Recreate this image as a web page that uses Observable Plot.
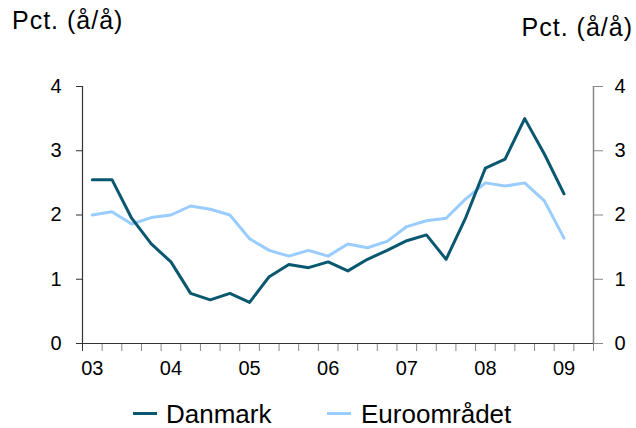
<!DOCTYPE html>
<html>
<head>
<meta charset="utf-8">
<script src="https://cdn.jsdelivr.net/npm/d3@7"></script>
<script src="https://cdn.jsdelivr.net/npm/@observablehq/plot@0.6"></script>
<style>
  body { margin: 0; background: #fff; }
  #wrap { position: relative; width: 636px; height: 428px; font-family: "Liberation Sans", Arial, sans-serif; color: #000; overflow: hidden; }
  .t { position: absolute; white-space: nowrap; line-height: 1; }
  .sw { position: absolute; height: 3px; width: 24px; }
  #chart { position: absolute; left: 0; top: 0; }
</style>
</head>
<body>
<div id="wrap">
  <div id="chart"></div>
  <div class="t" style="left:12px; top:8px; font-size:25px; letter-spacing:1px;">Pct. (å/å)</div>
  <div class="t" style="right:3px; top:15px; font-size:25px; letter-spacing:1px;">Pct. (å/å)</div>
  <div class="sw" id="sw1" style="left:133px; top:412px;"></div>
  <div class="t" id="lg1" style="left:166px; top:401px; font-size:26px;"></div>
  <div class="sw" id="sw2" style="left:327px; top:412px;"></div>
  <div class="t" id="lg2" style="left:361px; top:401px; font-size:26px;"></div>
</div>
<script>
// Quarters 2003K1 - 2009K1
const quarters = ["03K1","03K2","03K3","03K4","04K1","04K2","04K3","04K4","05K1","05K2","05K3","05K4",
                  "06K1","06K2","06K3","06K4","07K1","07K2","07K3","07K4","08K1","08K2","08K3","08K4","09K1"];
const danmark = [2.55, 2.55, 1.95, 1.55, 1.27, 0.78, 0.68, 0.78, 0.64, 1.04, 1.23, 1.18,
                 1.27, 1.13, 1.31, 1.45, 1.60, 1.69, 1.31, 1.96, 2.73, 2.87, 3.50, 2.95, 2.33];
const euro    = [2.00, 2.05, 1.86, 1.96, 2.00, 2.14, 2.09, 2.00, 1.63, 1.45, 1.36, 1.45,
                 1.36, 1.55, 1.49, 1.59, 1.82, 1.91, 1.95, 2.25, 2.50, 2.45, 2.50, 2.22, 1.64];
const seriesNames = ["Danmark", "Euroområdet"];
const seriesColors = ["#0a5770", "#99ccff"];
const yearLabels = ["03","04","05","06","07","08","09"];
const yearQuarters = ["03K1","04K1","05K1","06K1","07K1","08K1","09K1"];
const yTicks = [0, 1, 2, 3, 4];

const rows = quarters.map((q, i) => ({ i, q, dk: danmark[i], eu: euro[i] }));
const labelPos = yearQuarters.map(q => quarters.indexOf(q));
const xTickPos = d3.range(-0.5, quarters.length + 1, 1); // category boundaries (26 slots)
const xMin = -0.5, xMax = quarters.length + 0.5;

const chart = Plot.plot({
  width: 636,
  height: 428,
  marginLeft: 82,
  marginRight: 43,
  marginTop: 86,
  marginBottom: 85,
  x: { domain: [xMin, xMax] },
  y: { domain: [0, 4] },
  style: { fontFamily: "'Liberation Sans', Arial, sans-serif", fontSize: "20px", background: "transparent", color: "#000", overflow: "visible" },
  marks: [
    Plot.axisX({ ticks: xTickPos, tickSize: 8, stroke: "#888", tickFormat: () => "", label: null }),
    Plot.axisX({ ticks: [xMin], tickSize: 8, stroke: "#333", tickFormat: () => "", label: null }),
    Plot.axisX({ ticks: labelPos, tickSize: 0, tickPadding: 17, tickFormat: v => yearLabels[labelPos.indexOf(v)], label: null }),
    Plot.axisY({ anchor: "left", ticks: yTicks, tickSize: 6, tickPadding: 15, stroke: "#333", tickFormat: d => String(d), label: null }),
    Plot.axisY({ anchor: "right", ticks: yTicks, tickSize: 9, tickPadding: 12, stroke: "#888", tickFormat: d => String(d), label: null }),
    Plot.ruleX([xMax], { stroke: "#888", strokeWidth: 1.5 }),
    Plot.ruleY([0], { stroke: "#333" }),
    Plot.ruleX([xMin], { stroke: "#333", strokeWidth: 1.2 }),
    Plot.line(rows, { x: "i", y: "eu", stroke: seriesColors[1], strokeWidth: 3 }),
    Plot.line(rows, { x: "i", y: "dk", stroke: seriesColors[0], strokeWidth: 3 })
  ]
});
document.getElementById("chart").appendChild(chart);

document.getElementById("sw1").style.background = seriesColors[0];
document.getElementById("sw2").style.background = seriesColors[1];
document.getElementById("lg1").textContent = seriesNames[0];
document.getElementById("lg2").textContent = seriesNames[1];
</script>
</body>
</html>
